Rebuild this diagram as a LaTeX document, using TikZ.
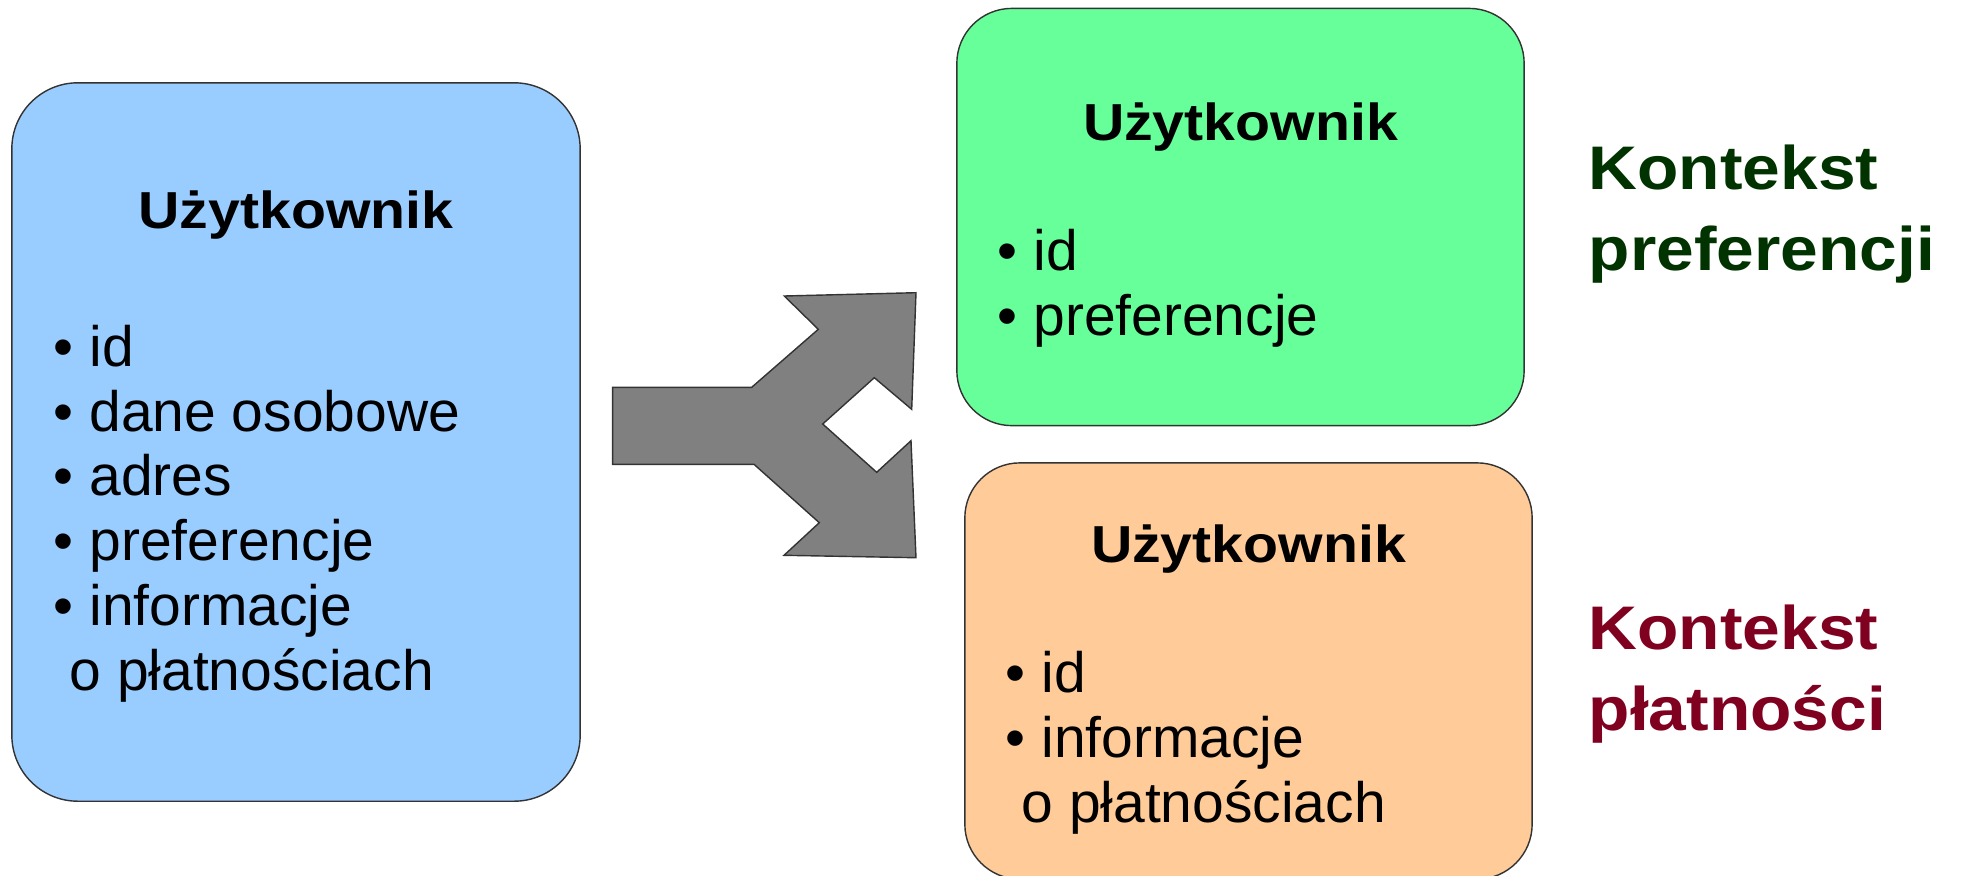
\documentclass[tikz,border=0pt]{standalone}
\usepackage{fontspec}
\setmainfont{Liberation Sans}
\newfontfamily\widefont[FakeStretch=1.1]{Liberation Sans}

\definecolor{userblue}{RGB}{153,204,255}
\definecolor{prefgreen}{RGB}{102,255,153}
\definecolor{payorange}{RGB}{255,204,153}
\definecolor{prefdark}{RGB}{0,51,0}
\definecolor{paydark}{RGB}{128,0,32}
\definecolor{splitgray}{RGB}{128,128,128}

\begin{document}
\begin{tikzpicture}[x=0.01cm,y=-0.01cm,
    entity/.style={draw=black!80,rounded corners=0.55cm,inner sep=0pt},
    title/.style={anchor=base,inner sep=0pt,font=\fontsize{14.8}{17}\widefont\bfseries},
    items/.style={anchor=base west,align=left,inner sep=0pt,font=\fontsize{16.2}{18.4}\selectfont},
    context/.style={anchor=base west,align=left,inner sep=0pt,font=\fontsize{17.5}{22.8}\widefont\bfseries}]
  \useasboundingbox (0,0) rectangle (1962,875);

  % one big user (multi-line nodes sit on their last line)
  \node[entity,fill=userblue,minimum width=5.68cm,minimum height=7.18cm,rounded corners=0.66cm] (userAll) at (296,442) {};
  \node[title] (allTitle) at (296,228) {Użytkownik};
  \node[items] (allItems) at (53,690) {• id\\• dane osobowe\\• adres\\• preferencje\\• informacje\\\hspace*{.28em}o płatnościach};

  % split
  \draw[fill=splitgray,draw=black!80] (612.7,387.3) -- (751.7,387.3) -- (818.3,329.3) -- (784.3,296)
    -- (916,292.7) -- (911.7,409.3) -- (874.3,377.7) -- (822.7,424) -- (876.7,472.3) -- (911,440.7)
    -- (916,557.7) -- (784,555.3) -- (819.3,522.7) -- (754,464.3) -- (612.7,464.3) -- cycle;

  % preferences
  \node[entity,fill=prefgreen,minimum width=5.67cm,minimum height=4.17cm] (userPref) at (1240.5,217) {};
  \node[title] (prefTitle) at (1240.5,140) {Użytkownik};
  \node[items] (prefItems) at (997,335) {• id\\• preferencje};
  \node[context,text=prefdark] (prefCtx) at (1588,270) {Kontekst\\preferencji};

  % payments
  \node[entity,fill=payorange,minimum width=5.67cm,minimum height=4.16cm] (userPay) at (1248.5,671) {};
  \node[title] (payTitle) at (1248.5,562) {Użytkownik};
  \node[items] (payItems) at (1005,822) {• id\\• informacje\\\hspace*{.28em}o płatnościach};
  \node[context,text=paydark] (payCtx) at (1588,730) {Kontekst\\płatności};
\end{tikzpicture}
\end{document}
